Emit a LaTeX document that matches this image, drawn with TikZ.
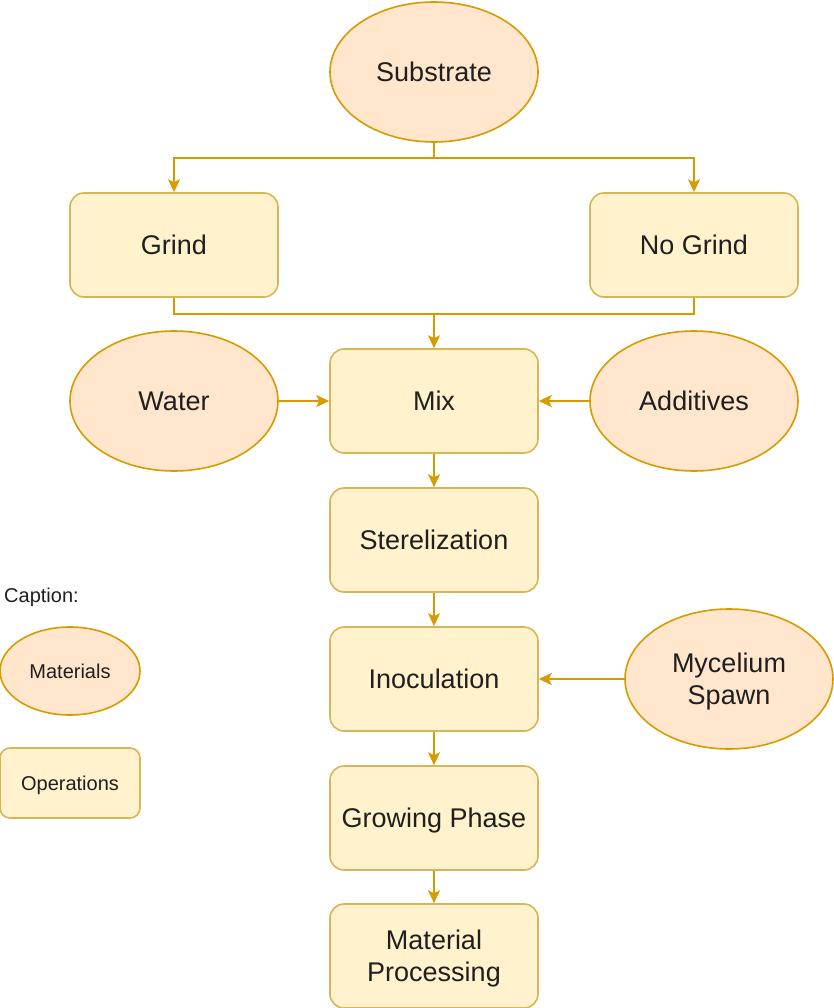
\documentclass[tikz,border=0pt]{standalone}
\usepackage{fontspec}
\setmainfont{Liberation Sans}
\usetikzlibrary{arrows.meta,shapes.geometric}
\definecolor{matfill}{HTML}{FFE6CC}
\definecolor{matline}{HTML}{D79B00}
\definecolor{opfill}{HTML}{FFF2CC}
\definecolor{opline}{HTML}{D6B656}
\definecolor{txt}{HTML}{1F1F1F}
\definecolor{edge}{HTML}{D79B00}
\begin{document}
\begin{tikzpicture}[x=1pt,y=-1pt,
  mat/.style={ellipse, draw=matline, fill=matfill, line width=1.6pt, inner sep=0pt,
    minimum width=208pt, minimum height=140pt, text=txt, align=center,
    font=\fontsize{27}{32}\selectfont, text height=19.3pt, text depth=0pt},
  op/.style={rectangle, rounded corners=14pt, draw=opline, fill=opfill, line width=1.6pt, inner sep=0pt,
    minimum width=208pt, minimum height=104pt, text=txt, align=center,
    font=\fontsize{27}{32}\selectfont, text height=19.3pt, text depth=0pt},
  twoline/.style={text height=51.3pt, text depth=0pt},
  small/.style={font=\fontsize{20}{24}\selectfont, text height=14.3pt, text depth=0pt},
  conn/.style={draw=edge, line width=1.6pt},
  arr/.style={conn, -{Stealth[length=13pt,width=12pt,inset=3pt]}}
]
\useasboundingbox (0,0) rectangle (833,1008);
% nodes
\node[mat] (sub) at (434,72) {Substrate};
\node[op] (grind) at (174,245) {Grind};
\node[op] (nogrind) at (694,245) {No Grind};
\node[op] (mix) at (434,401) {Mix};
\node[mat] (water) at (174,401) {Water};
\node[mat] (add) at (694,401) {Additives};
\node[op] (ster) at (434,540) {Sterelization};
\node[op] (inoc) at (434,679) {Inoculation};
\node[mat, twoline] (myc) at (729,679) {Mycelium\\Spawn};
\node[op] (grow) at (434,818) {Growing Phase};
\node[op, twoline] (proc) at (434,956) {Material\\Processing};
% caption
\node[anchor=west, text=txt, inner sep=0pt, small] (cap) at (4,595) {Caption:};
\node[mat, small, minimum width=140pt, minimum height=88pt] (lmat) at (70,671) {Materials};
\node[op, small, minimum width=140pt, minimum height=70pt, rounded corners=10pt] (lop) at (70,783) {Operations};
% connectors
\coordinate (j1) at (434,158);
\coordinate (j2) at (434,314);
\draw[conn] (sub.south) -- (j1);
\draw[arr] (j1) -| (grind.north);
\draw[arr] (j1) -| (nogrind.north);
\draw[conn] (grind.south) |- (j2);
\draw[conn] (nogrind.south) |- (j2);
\draw[arr] (j2) -- (mix.north);
\draw[arr] (water.east) -- (mix.west);
\draw[arr] (add.west) -- (mix.east);
\draw[arr] (mix.south) -- (ster.north);
\draw[arr] (ster.south) -- (inoc.north);
\draw[arr] (myc.west) -- (inoc.east);
\draw[arr] (inoc.south) -- (grow.north);
\draw[arr] (grow.south) -- (proc.north);
\end{tikzpicture}
\end{document}
